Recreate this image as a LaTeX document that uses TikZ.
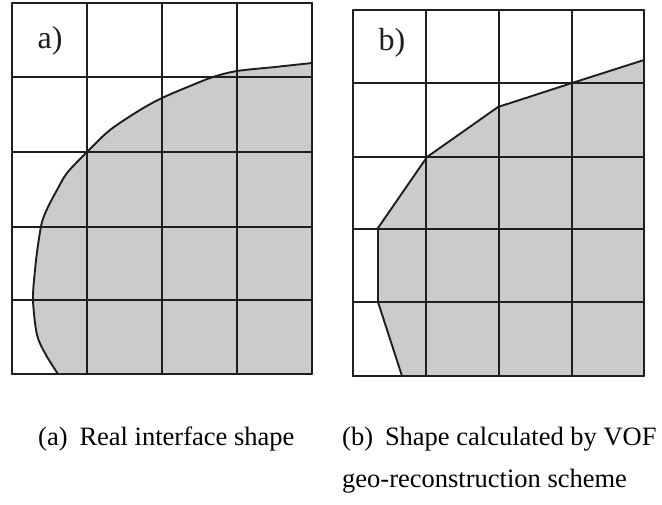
\documentclass[tikz,border=0pt]{standalone}
\usepackage{fontspec}
\setmainfont{Liberation Serif}
\usetikzlibrary{positioning}
\definecolor{liquid}{HTML}{CBCBCB}
\definecolor{ink}{HTML}{1E1E1E}
\tikzset{
    every picture/.style={line cap=round,line join=round},
    gridline/.style={draw=ink,line width=2pt},
    interface/.style={draw=ink,line width=1.9pt},
    liquidfill/.style={fill=liquid},
    panellabel/.style={font=\fontsize{32}{34}\selectfont,inner sep=0pt,text=ink},
    caption/.style={font=\fontsize{26.5}{30}\selectfont,inner sep=0pt,anchor=base west}
}
\begin{document}
\begin{tikzpicture}[x=1pt,y=-1pt]
    \useasboundingbox (0,0) rectangle (662,504);
    % (a) real interface
    \fill[liquidfill] plot[smooth] coordinates {(312,63) (275,67) (237,71) (213,77) (190,86)
      (162,98) (140,110) (110,130) (87,152) (67,173) (57,190) (48,207) (42,222) (38,245)
      (35,270) (33,300) (37,335) (46,355) (58,374)} -- (312,374) -- cycle;
    \foreach \x in {12,87,162,237,312}
        \draw[gridline] (\x,3) -- (\x,374);
    \foreach \y in {3,77,152,227,300,374}
        \draw[gridline] (12,\y) -- (312,\y);
    \draw[interface] plot[smooth] coordinates {(312,63) (275,67) (237,71) (213,77) (190,86)
      (162,98) (140,110) (110,130) (87,152) (67,173) (57,190) (48,207) (42,222) (38,245)
      (35,270) (33,300) (37,335) (46,355) (58,374)};
    \node[panellabel] (labA) at (50,41) {a)};
    % (b) VOF reconstruction
    \fill[liquidfill] (644,60) -- (572,83) -- (498,107) -- (427,157) -- (378,228)
      -- (378,302) -- (402,376) -- (644,376) -- cycle;
    \foreach \x in {353,426,499,572,644}
        \draw[gridline] (\x,10) -- (\x,376);
    \foreach \y in {10,83,157,229,302,376}
        \draw[gridline] (353,\y) -- (644,\y);
    \draw[interface] (644,60) -- (572,83) -- (498,107) -- (427,157) -- (378,228)
      -- (378,302) -- (402,376);
    \node[panellabel] (labB) at (392,43) {b)};
    % captions
    \node[caption] (capA) at (38,445) {(a)\hspace{0.45em}Real interface shape};
    \node[caption] (capB) at (342,445) {(b)\hspace{0.45em}Shape calculated by VOF};
    \node[caption] (capC) at (342,487) {geo-reconstruction scheme};
\end{tikzpicture}
\end{document}
